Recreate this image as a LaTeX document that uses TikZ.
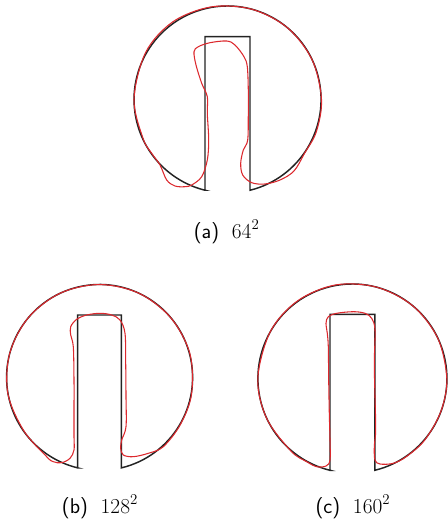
\documentclass[tikz,border=0pt]{standalone}
\usepackage{fontspec}
\usepackage{tikz}

\begin{document}
\begin{tikzpicture}[x=0.75pt,y=0.75pt,yscale=-1,xscale=1,
  contour/.style={color={rgb, 255:red, 35; green, 35; blue, 35}, line width=1.1},
  approx/.style={color={rgb, 255:red, 220; green, 40; blue, 45}, line width=0.8, tension=0.55},
  caption/.style={anchor=base, inner sep=0.75pt, font=\fontsize{16}{19}\selectfont}]

\useasboundingbox (0,0) rectangle (448,521);

%Shape: Slotted Disc (a)
\draw [contour] (205,190.25) -- (205,36.7) -- (250,36.7) -- (250,190.25) arc [start angle=76.1, end angle=-256.1, radius=93.5] -- cycle ;
%Curve Lines: Level Set (a)
\draw [approx] plot [smooth cycle] coordinates {(191.7,185) (201.7,176.7) (207.3,160) (208.7,140) (207.3,113.3) (207.3,96.7) (201.7,83.3) (196,65) (194,51.7) (198.3,46.7) (210,42.7) (226.7,41) (235,45) (244,56.7) (247.3,66.7) (248.3,90) (248.3,113.3) (247.7,140) (243.3,150) (240.7,163.3) (242.7,175) (251.7,182.7) (265,184) (280,180) (294,171) (304.5,153.4) (316.3,131.8) (321.5,99.5) (312.2,60) (287.6,27.9) (251.7,9.2) (211.2,6.9) (173,21.7) (145.7,52.3) (134,99.5) (143.2,138.8) (151.7,153.3) (160,165) (166.7,180) (175,186) (185,186.7)};

%Shape: Slotted Disc (b)
\draw [contour] (77.7,467.9) -- (77.7,315) -- (121.3,315) -- (121.3,467.9) arc [start angle=76.5, end angle=-256.5, radius=93] -- cycle ;
%Curve Lines: Level Set (b)
\draw [approx] plot [smooth cycle] coordinates {(53.3,461.7) (61.7,462.7) (70,458.3) (74,450) (74,436.7) (74,413.3) (74,380) (73.3,346.7) (70.7,335) (70.7,326.7) (76.7,319.3) (86.7,315) (100,313.3) (111.7,315) (120,320) (125,333.3) (125.7,363.3) (126,396.7) (126,426.7) (121.7,440) (120.7,448.3) (123.3,455) (133.3,456.7) (148.3,453.3) (163.3,446.7) (180.5,424.3) (191.6,393.8) (189.8,353.3) (170.7,317.7) (138.8,293.2) (99.5,284.5) (60.2,293.2) (28.3,317.7) (9.7,353.4) (7.9,393.7) (23.7,430.6) (46.7,456.7)};

%Shape: Slotted Disc (c)
\draw [contour] (330,470.3) -- (330,314.3) -- (374.8,314.3) -- (374.8,470.3) arc [start angle=76.3, end angle=-256.3, radius=94.5] -- cycle ;
%Curve Lines: Level Set (c)
\draw [approx] plot [smooth cycle] coordinates {(306.7,461.7) (316.7,466.7) (326,466) (330,460) (330,440) (329.3,413.3) (328.7,380) (328.3,346.7) (327.3,333.3) (326,323.3) (328.3,316.7) (336.7,313.3) (353.3,311.7) (365,313.3) (371.7,318.3) (375,330) (374.3,363.3) (375,396.7) (375.7,430) (374.3,446.7) (375,460) (380,464) (393.3,463.3) (406.8,456.3) (425.1,439.6) (441.1,410.8) (446.8,378.5) (437.9,338.5) (413.1,306.1) (376.8,287.2) (335.8,284.9) (297.8,300.7) (270.5,331.3) (257.8,378.5) (266.7,418.5) (291.2,451.3)};

% Text Node
\node (capa) at (226.7,238) [caption] {\textsf{(a)}\hspace{0.6em}64\textsuperscript{2}};
% Text Node
\node (capb) at (100,513) [caption] {\textsf{(b)}\hspace{0.6em}128\textsuperscript{2}};
% Text Node
\node (capc) at (353,513) [caption] {\textsf{(c)}\hspace{0.6em}160\textsuperscript{2}};

\end{tikzpicture}
\end{document}
